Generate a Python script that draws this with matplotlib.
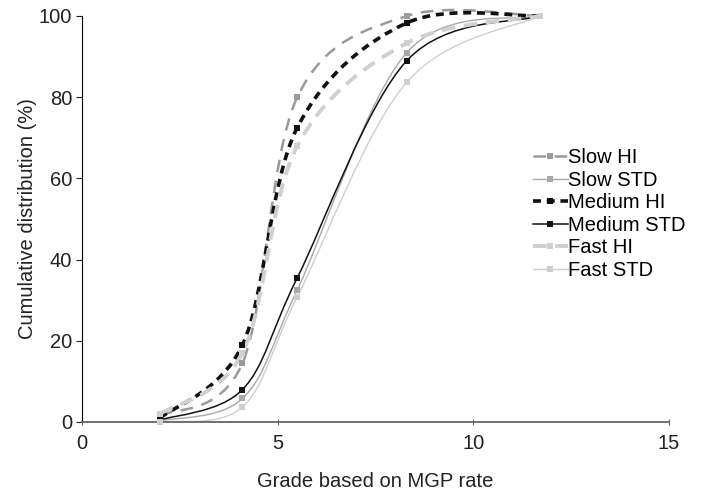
import matplotlib
matplotlib.use("Agg")
import matplotlib.pyplot as plt
import numpy as np
from matplotlib.path import Path
from matplotlib.patches import PathPatch
from matplotlib.lines import Line2D

# Grade points (x) shared by every series
GRADE = [2.0, 4.1, 5.5, 8.3, 11.7]

SLOW_HI = [1.5, 14.5, 80.0, 100.0, 100.0]
SLOW_STD = [0.3, 5.8, 32.5, 91.0, 100.0]
MEDIUM_HI = [1.0, 19.0, 72.5, 98.3, 100.0]
MEDIUM_STD = [0.5, 8.0, 35.5, 89.0, 100.0]
FAST_HI = [2.0, 17.0, 68.0, 93.3, 100.0]
FAST_STD = [0.0, 3.7, 30.8, 83.7, 100.0]

LABELS = ["Slow HI", "Slow STD", "Medium HI", "Medium STD", "Fast HI", "Fast STD"]
SERIES = [SLOW_HI, SLOW_STD, MEDIUM_HI, MEDIUM_STD, FAST_HI, FAST_STD]

STYLES = [
    dict(color="#9a9a9a", lw=1.8, ls=(0, (5, 3.5))),
    dict(color="#a8a8a8", lw=1.0, ls="-"),
    dict(color="#111111", lw=2.6, ls=(0, (2.2, 1.6))),
    dict(color="#111111", lw=1.1, ls="-"),
    dict(color="#d0d0d0", lw=2.8, ls=(0, (3.5, 2.2))),
    dict(color="#cfcfcf", lw=1.0, ls="-"),
]


def smooth_path(xs, ys):
    """Bezier path through the points, like a spreadsheet 'smoothed line'."""
    pts = np.column_stack([xs, ys])
    n = len(pts)
    verts = [pts[0]]
    codes = [Path.MOVETO]
    for i in range(n - 1):
        p0 = pts[max(i - 1, 0)]
        p1 = pts[i]
        p2 = pts[i + 1]
        p3 = pts[min(i + 2, n - 1)]
        c1 = p1 + (p2 - p0) / 6.0
        c2 = p2 - (p3 - p1) / 6.0
        verts += [c1, c2, p2]
        codes += [Path.CURVE4] * 3
    return Path(verts, codes)


plt.rcParams.update({"font.family": "Liberation Sans"})

fig = plt.figure(figsize=(7.09, 4.95), dpi=100)
ax = fig.add_axes([0.1157, 0.1475, 0.8279, 0.8202])

handles = []
for vals, st, label in zip(SERIES, STYLES, LABELS):
    patch = PathPatch(smooth_path(GRADE, vals), facecolor="none", edgecolor=st["color"],
                      lw=st["lw"], ls=st["ls"], clip_on=False, capstyle="butt")
    ax.add_patch(patch)
    ax.plot(GRADE, vals, ls="none", marker="s", ms=5, color=st["color"],
            markeredgewidth=0, clip_on=False, zorder=3)
    handles.append(Line2D([], [], color=st["color"], lw=st["lw"], ls=st["ls"],
                          marker="s", ms=5, markeredgewidth=0, label=label))

ax.set_xlim(0, 15)
ax.set_ylim(0, 100)
ax.set_xticks([0, 5, 10, 15])
ax.set_yticks([0, 20, 40, 60, 80, 100])
ax.spines["top"].set_visible(False)
ax.spines["right"].set_visible(False)
ax.spines["bottom"].set_color("#666666")
ax.spines["bottom"].set_linewidth(1.3)
ax.spines["left"].set_linewidth(0.8)
ax.tick_params(axis="y", direction="out", length=4, labelsize=14.5, pad=3, colors="#222222")
ax.tick_params(axis="x", direction="inout", length=5, labelsize=14.5, pad=6, colors="#222222")
ax.tick_params(axis="x", color="#666666")
ax.set_xlabel("Grade based on MGP rate", fontsize=14.5, labelpad=14, color="#222222")
ax.set_ylabel("Cumulative distribution (%)", fontsize=14.5, labelpad=1.5, color="#222222")

leg = ax.legend(handles=handles, loc="upper left", bbox_to_anchor=(0.768, 0.675),
                frameon=False, fontsize=14.5, handlelength=1.75, handletextpad=0.0,
                labelspacing=0.18, borderpad=0, borderaxespad=0)

fig.savefig("out.png", dpi=100, facecolor="white")
